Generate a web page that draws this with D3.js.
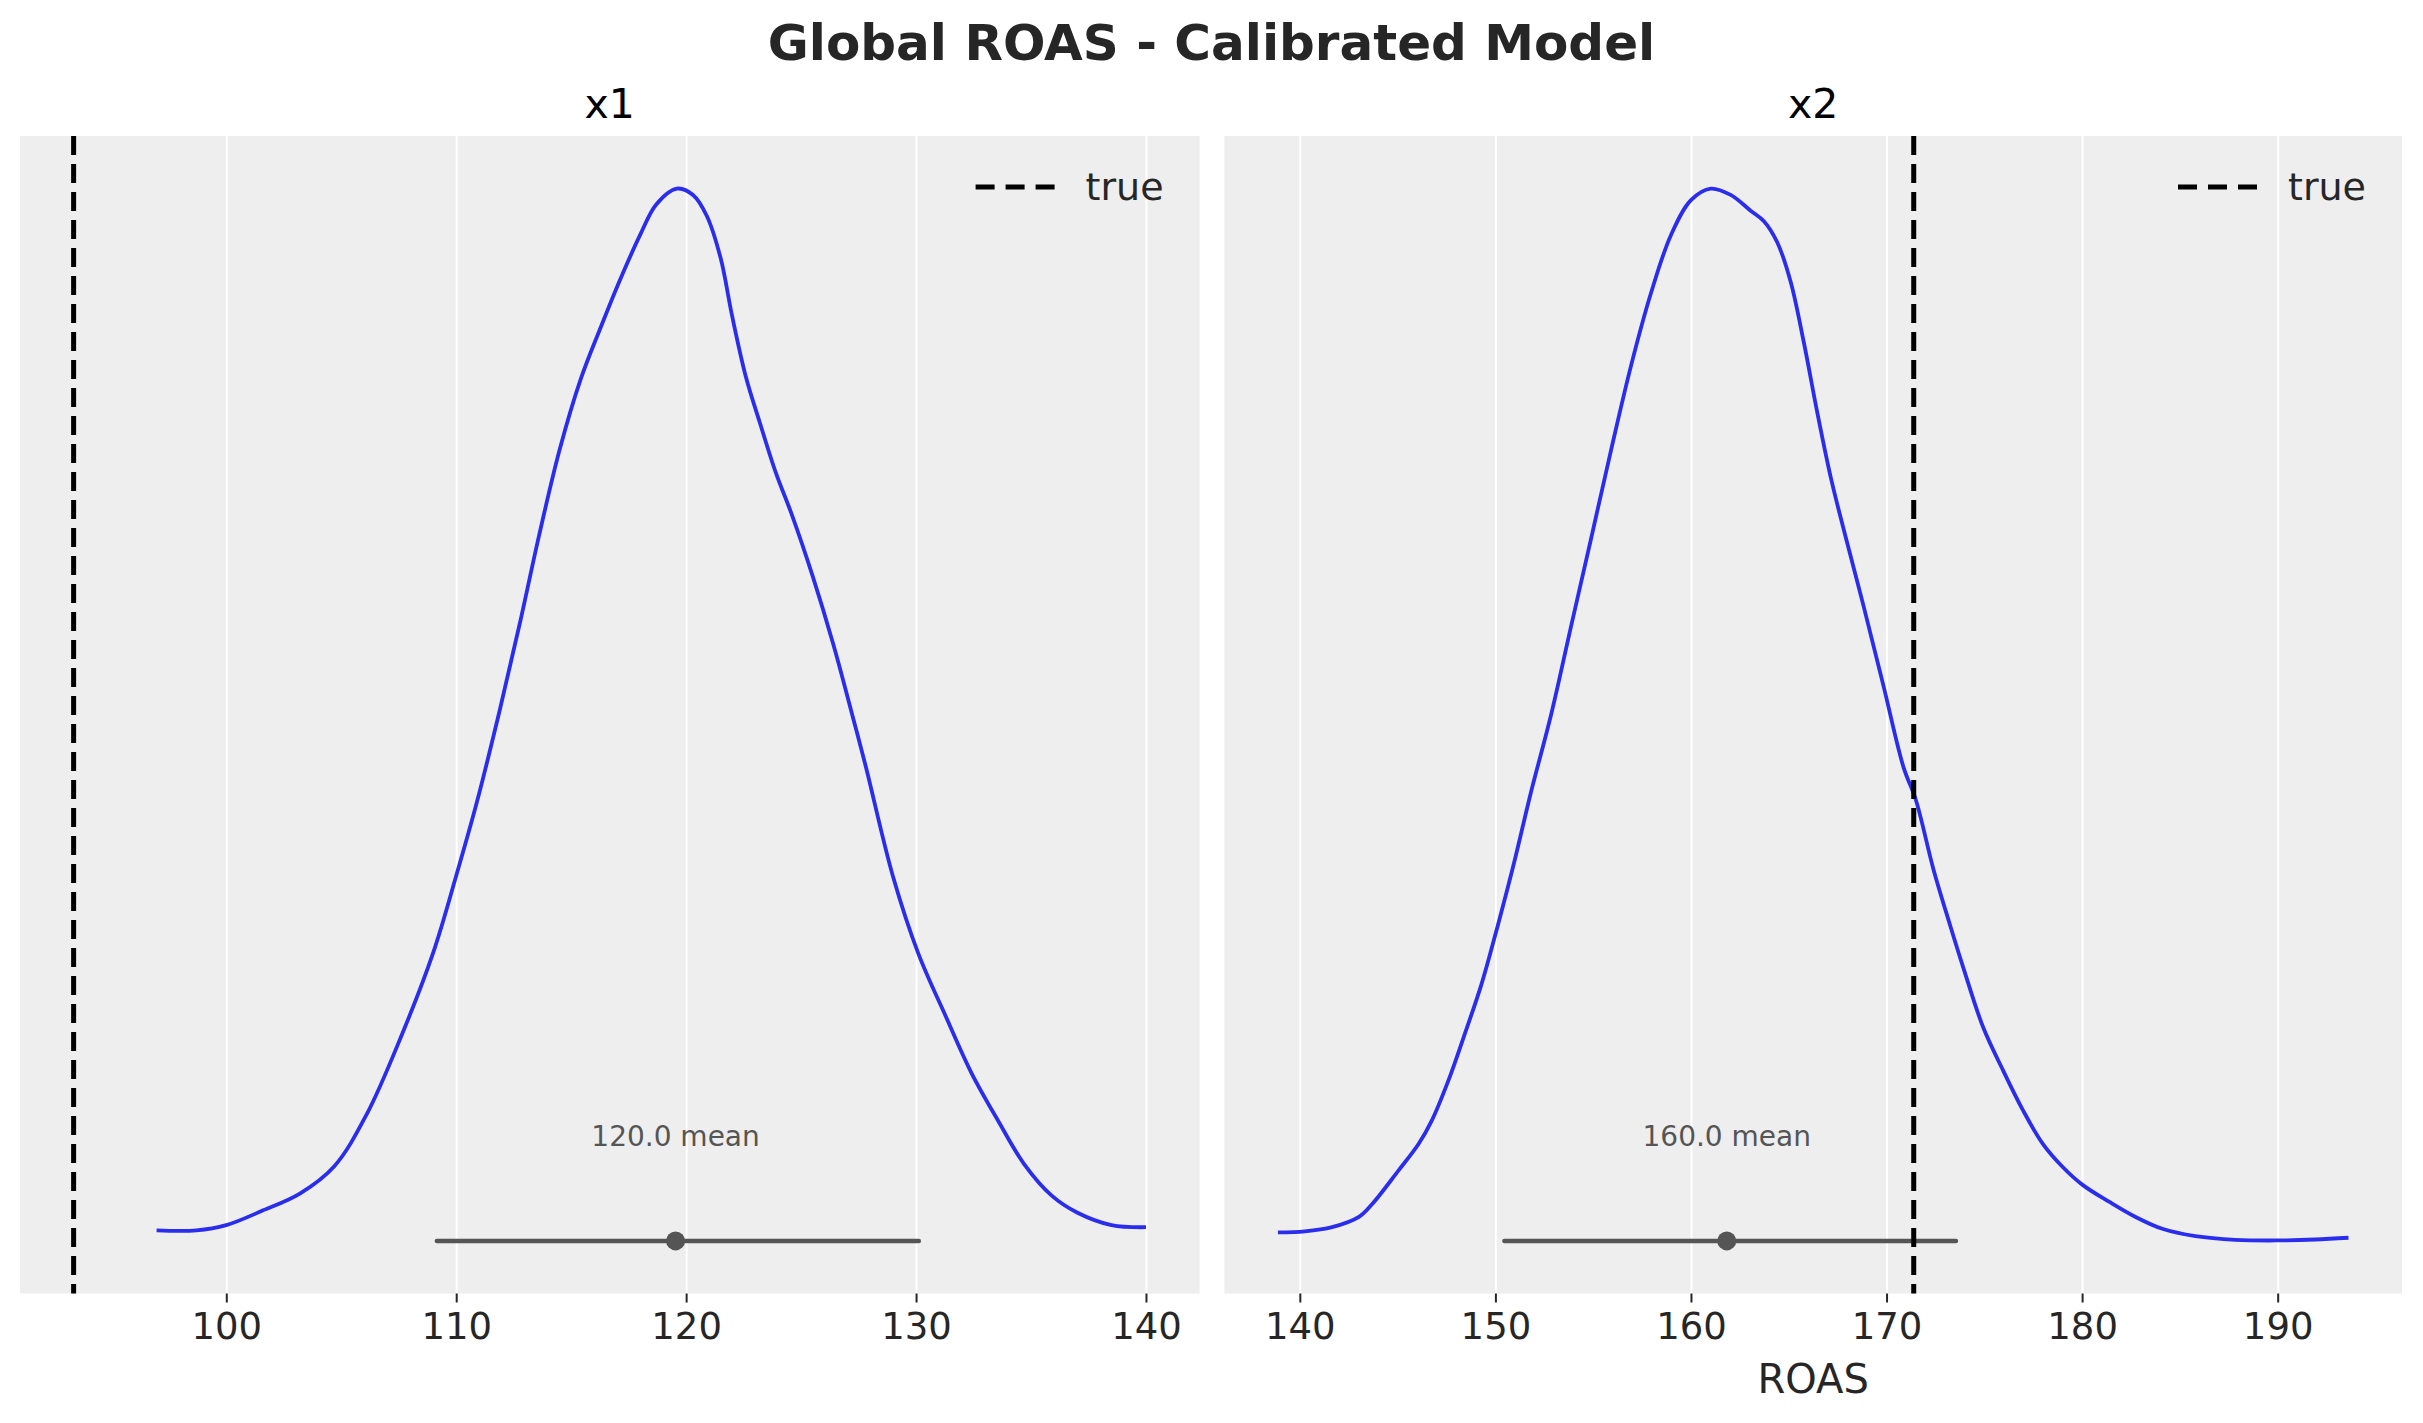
<!DOCTYPE html>
<html>
<head>
<meta charset="utf-8">
<script src="https://cdn.jsdelivr.net/npm/d3@7"></script>
<style>
  body { margin: 0; background: #fff; }
  text { font-family: "DejaVu Sans", sans-serif; }
</style>
</head>
<body>
<div class="chart"></div>
<script>
const width = 2423;
const height = 1423;

// posterior density of ROAS (peak scaled to 1)
const x1Roas = [96.97, 98.7, 100.0, 101.6, 103.2, 104.7, 106.1, 107.6, 109.0, 110.0, 110.9, 111.9, 112.8, 113.6,
  114.5, 115.4, 116.3, 117.1, 118.0, 118.7, 119.6, 120.3, 120.9, 121.5, 122.0, 122.6, 123.2, 123.9, 124.6,
  125.5, 126.4, 127.2, 127.8, 129.0, 130.1, 131.3, 132.4, 133.6, 134.7, 135.9, 137.0, 138.5, 140.0];
const x1Density = [0.010, 0.010, 0.015, 0.029, 0.045, 0.071, 0.120, 0.194, 0.274, 0.347, 0.417, 0.505, 0.590, 0.670,
  0.752, 0.818, 0.869, 0.912, 0.956, 0.985, 1.0, 0.994, 0.974, 0.934, 0.879, 0.821, 0.778, 0.730, 0.690,
  0.632, 0.567, 0.502, 0.452, 0.346, 0.273, 0.213, 0.160, 0.113, 0.073, 0.043, 0.027, 0.015, 0.013];

const x2Roas = [138.88, 140.25, 141.65, 143.0, 143.7, 145.05, 146.07, 146.74, 147.59, 148.44, 149.29, 150.14, 150.99,
  151.8, 152.86, 153.88, 154.9, 155.92, 156.94, 157.96, 158.98, 160.0, 161.01, 162.03, 163.05, 163.73, 164.41,
  165.09, 165.77, 166.45, 167.13, 167.81, 168.83, 169.85, 170.87, 171.5, 172.4, 173.25, 173.92, 174.94, 175.96,
  176.98, 178.0, 179.02, 180.04, 181.4, 182.76, 184.1, 185.8, 187.84, 189.88, 191.92, 193.62];
const x2Density = [0.008, 0.009, 0.013, 0.0225, 0.035, 0.067, 0.092, 0.114, 0.152, 0.197, 0.244, 0.301, 0.362,
  0.425, 0.501, 0.585, 0.668, 0.752, 0.832, 0.901, 0.956, 0.989, 1.0, 0.994, 0.979, 0.969, 0.949,
  0.912, 0.854, 0.788, 0.727, 0.676, 0.603, 0.527, 0.450, 0.419, 0.353, 0.300, 0.260, 0.203, 0.162,
  0.124, 0.092, 0.070, 0.053, 0.037, 0.0225, 0.0115, 0.0045, 0.001, 0.0004, 0.0013, 0.003];

const channels = ['x1', 'x2'];
const trueRoas = [93.36, 171.39];
const pointRoas = [119.54, 161.83];
const meanLabels = ['120.0 mean', '160.0 mean'];
const hdiLow = [109.16, 150.46];
const hdiHigh = [130.12, 173.55];
const x1Ticks = [100, 110, 120, 130, 140];
const x2Ticks = [140, 150, 160, 170, 180, 190];

const panels = [
  { name: channels[0], roas: x1Roas, dens: x1Density, ticks: x1Ticks, left: 20, right: 1199.6 },
  { name: channels[1], roas: x2Roas, dens: x2Density, ticks: x2Ticks, left: 1224.4, right: 2402 }
];
const plotTop = 136, plotBottom = 1293.5;

const svg = d3.select('.chart').append('svg')
  .attr('width', width)
  .attr('height', height)
  .attr('viewBox', `0 0 ${width} ${height}`);

svg.append('text')
  .attr('x', width / 2).attr('y', 60)
  .attr('text-anchor', 'middle')
  .attr('font-size', 50).attr('font-weight', 'bold')
  .attr('fill', '#262626')
  .text('Global ROAS - Calibrated Model');

panels.forEach((p, i) => {
  // x limits like matplotlib autoscale: data + true line, 5% margin
  const ext = d3.extent(p.roas.concat([trueRoas[i]]));
  const pad = (ext[1] - ext[0]) * 0.05;
  const x = d3.scaleLinear().domain([ext[0] - pad, ext[1] + pad]).range([p.left, p.right]);
  const ymax = d3.max(p.dens);
  const y = d3.scaleLinear().domain([-0.05 * ymax, 1.05 * ymax]).range([plotBottom, plotTop]);

  const g = svg.append('g');
  g.append('rect')
    .attr('x', p.left).attr('y', plotTop)
    .attr('width', p.right - p.left).attr('height', plotBottom - plotTop)
    .attr('fill', '#eeeeee');

  // white vertical grid
  g.append('g')
    .attr('transform', `translate(0, ${plotBottom})`)
    .call(d3.axisBottom(x).tickValues(p.ticks).tickSize(-(plotBottom - plotTop)).tickFormat(''))
    .call(a => a.select('.domain').remove())
    .call(a => a.selectAll('line').attr('stroke', '#ffffff').attr('stroke-width', 2));

  // x axis ticks and labels
  const ax = g.append('g')
    .attr('transform', `translate(0, ${plotBottom})`)
    .call(d3.axisBottom(x).tickValues(p.ticks).tickSize(9).tickPadding(10).tickFormat(d3.format('d')));
  ax.select('.domain').remove();
  ax.selectAll('line').attr('stroke', '#262626').attr('stroke-width', 2);
  ax.selectAll('text')
    .attr('font-size', 37).attr('fill', '#262626')
    .attr('font-family', '"DejaVu Sans", sans-serif');

  // density curve
  const line = d3.line()
    .x((d, k) => x(p.roas[k]))
    .y(d => y(d))
    .curve(d3.curveCatmullRom.alpha(0.5));
  g.append('path')
    .datum(p.dens)
    .attr('d', line)
    .attr('fill', 'none')
    .attr('stroke', '#2a2eec')
    .attr('stroke-width', 3.8);

  // hdi line with point estimate
  g.append('line')
    .attr('x1', x(hdiLow[i])).attr('x2', x(hdiHigh[i]))
    .attr('y1', y(0)).attr('y2', y(0))
    .attr('stroke', '#555555').attr('stroke-width', 4.5).attr('stroke-linecap', 'round');
  g.append('circle')
    .attr('cx', x(pointRoas[i])).attr('cy', y(0)).attr('r', 9.5)
    .attr('fill', '#555555');
  g.append('text')
    .attr('x', x(pointRoas[i])).attr('y', y(0.09 * ymax))
    .attr('text-anchor', 'middle')
    .attr('font-size', 28).attr('fill', '#555555')
    .text(meanLabels[i]);

  // true value
  g.append('line')
    .attr('x1', x(trueRoas[i])).attr('x2', x(trueRoas[i]))
    .attr('y1', plotTop).attr('y2', plotBottom)
    .attr('stroke', '#000').attr('stroke-width', 5)
    .attr('stroke-dasharray', '19,9');

  // legend
  g.append('line')
    .attr('x1', p.right - 224).attr('x2', p.right - 145)
    .attr('y1', plotTop + 51).attr('y2', plotTop + 51)
    .attr('stroke', '#000').attr('stroke-width', 5)
    .attr('stroke-dasharray', '19,11');
  g.append('text')
    .attr('x', p.right - 114).attr('y', plotTop + 64)
    .attr('font-size', 38).attr('fill', '#262626')
    .text('true');

  // panel title
  svg.append('text')
    .attr('x', (p.left + p.right) / 2).attr('y', 118)
    .attr('text-anchor', 'middle')
    .attr('font-size', 41).attr('fill', '#000')
    .text(p.name);
});

svg.append('text')
  .attr('x', (panels[1].left + panels[1].right) / 2).attr('y', 1393)
  .attr('text-anchor', 'middle')
  .attr('font-size', 40).attr('fill', '#262626')
  .text('ROAS');
</script>
</body>
</html>
